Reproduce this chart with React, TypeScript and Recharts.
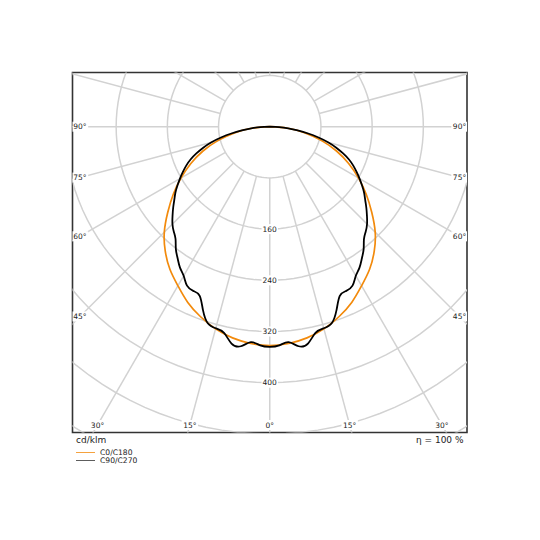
import React from 'react';
import {
  ComposedChart,
  Line,
  Scatter,
  XAxis,
  YAxis,
  ReferenceArea,
} from 'recharts';

// light distribution curves, angle from nadir (deg) and cd/klm
const ANGLES_C0 = [0, 5, 10, 15, 20, 25, 30, 35, 40, 45, 50, 55, 60, 65, 70, 75, 80, 85, 90];
const C0_C180 = [342, 340, 335, 327, 316, 303, 287, 272, 254, 233, 208, 184, 160, 136, 111, 84, 56, 28, 0];

const ANGLES_C90 = [
  0, 2.5, 5, 7.5, 10, 12.5, 15, 17.5, 20, 22.5, 25, 27.5, 30, 32.5, 35, 37.5, 40, 42.5, 45,
  47.5, 50, 52.5, 55, 57.5, 60, 62.5, 65, 67.5, 70, 72.5, 75, 77.5, 80, 82.5, 85, 87.5, 90,
];
const C90_C270 = [
  344, 342, 338, 346, 344, 330, 326, 322, 305, 286, 283, 280, 269, 261, 251, 241, 229, 222, 215,
  206, 197, 188, 180, 171, 162, 153, 144, 134, 122, 109, 95, 78, 61, 44, 29, 15, 0,
];

// grid
const RINGS = [80, 160, 240, 320, 400, 480, 560, 640];
const RING_LABELS = [160, 240, 320, 400];
const SPOKE_ANGLES = Array.from({ length: 24 }, (_, i) => i * 15);
const ANGLE_LABELS = [-90, -75, -60, -45, -30, -15, 0, 15, 30, 45, 60, 75, 90];

const X_MAX = 308.2;
const Y_MAX = 84.7;
const Y_MIN = -477.8;
const LABEL_INSET = 11.7;

const GRID = '#d2d2d2';
const ORANGE = '#f28a0c';

const rad = (d: number) => (d * Math.PI) / 180;
const polar = (deg: number, v: number) => ({ x: v * Math.sin(rad(deg)), y: -v * Math.cos(rad(deg)) });

// mirror the half curve so it runs from -90 through 0 to +90
const toCurve = (angles: number[], values: number[]) => {
  const left = angles.slice(1).map((a, i) => polar(-a, values[i + 1])).reverse();
  const right = angles.map((a, i) => polar(a, values[i]));
  return [...left, ...right];
};

const c0Data = toCurve(ANGLES_C0, C0_C180);
const c90Data = toCurve(ANGLES_C90, C90_C270);

const ringData = RINGS.map(r =>
  Array.from({ length: 121 }, (_, i) => polar(i * 3, r))
);
const spokeData = SPOKE_ANGLES.map(a => [polar(a, 80), polar(a, 800)]);

const ringLabelData = RING_LABELS.map(v => ({ ...polar(0, v), text: String(v) }));

const angleLabelData = ANGLE_LABELS.map(a => {
  const s = Math.abs(Math.sin(rad(a)));
  const c = Math.cos(rad(a));
  const tx = s > 1e-6 ? (X_MAX - LABEL_INSET) / s : Infinity;
  const ty = c > 1e-6 ? (-Y_MIN - LABEL_INSET) / c : Infinity;
  return { ...polar(a, Math.min(tx, ty)), text: `${Math.abs(a)}°` };
});

const TextBox = (props: any) => {
  const { cx, cy, payload } = props;
  const w = payload.text.length * 4.8 + 2;
  return (
    <g>
      <rect x={cx - w / 2} y={cy - 5} width={w} height={10} fill="#fff" />
      <text x={cx} y={cy} textAnchor="middle" dominantBaseline="central" fontSize={7.5} fill="#222">
        {payload.text}
      </text>
    </g>
  );
};

export default function App() {
  return (
    <div style={{ position: 'absolute', left: 0, top: 0, width: 540, height: 540, background: '#fff', fontFamily: 'DejaVu Sans' }}>
      <ComposedChart width={540} height={540} margin={{ top: 72.5, left: 72.5, right: 73, bottom: 107.5 }}>
        <XAxis type="number" dataKey="x" domain={[-X_MAX, X_MAX]} allowDataOverflow hide />
        <YAxis type="number" dataKey="y" domain={[Y_MIN, Y_MAX]} allowDataOverflow hide />
        {ringData.map((d, i) => (
          <Line key={`ring-${i}`} data={d} dataKey="y" type="linear" stroke={GRID} strokeWidth={1.5}
            dot={false} activeDot={false} isAnimationActive={false} />
        ))}
        {spokeData.map((d, i) => (
          <Line key={`spoke-${i}`} data={d} dataKey="y" type="linear" stroke={GRID} strokeWidth={1.5}
            dot={false} activeDot={false} isAnimationActive={false} />
        ))}
        <Scatter data={ringLabelData} dataKey="y" shape={TextBox} isAnimationActive={false} />
        <Scatter data={angleLabelData} dataKey="y" shape={TextBox} isAnimationActive={false} />
        <Line data={c0Data} dataKey="y" type="natural" stroke={ORANGE} strokeWidth={1.7}
          dot={false} activeDot={false} isAnimationActive={false} />
        <Line data={c90Data} dataKey="y" type="natural" stroke="#000" strokeWidth={1.8}
          dot={false} activeDot={false} isAnimationActive={false} />
        <ReferenceArea x1={-X_MAX} x2={X_MAX} y1={Y_MIN} y2={Y_MAX} fill="none" fillOpacity={0}
          stroke="#333" strokeWidth={1.6} ifOverflow="visible" />
      </ComposedChart>
      <svg width={540} height={540} style={{ position: 'absolute', left: 0, top: 0, pointerEvents: 'none' }}>
        <text x={76} y={439.5} fontSize={9} fill="#222" dominantBaseline="central">cd/klm</text>
        <text x={463.5} y={439.5} fontSize={9} fill="#222" textAnchor="end" dominantBaseline="central">η = 100 %</text>
        <line x1={76} x2={95} y1={452.5} y2={452.5} stroke={ORANGE} strokeWidth={0.8} />
        <text x={100} y={452.5} fontSize={7.6} fill="#222" dominantBaseline="central">C0/C180</text>
        <line x1={76} x2={95} y1={460.5} y2={460.5} stroke="#333" strokeWidth={0.8} />
        <text x={100} y={460.5} fontSize={7.6} fill="#222" dominantBaseline="central">C90/C270</text>
      </svg>
    </div>
  );
}
